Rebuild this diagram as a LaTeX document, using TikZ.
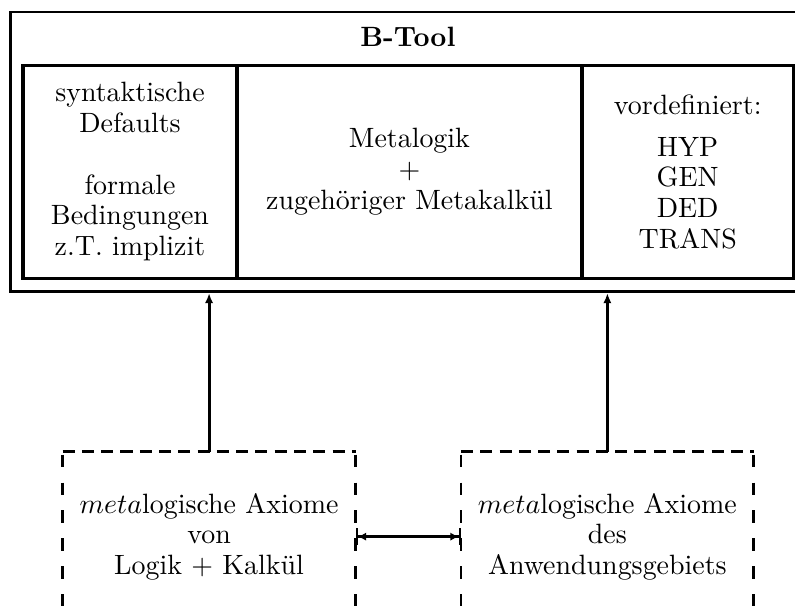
\documentclass[tikz,border=0pt]{standalone}
\usepackage{amsmath}
\usepackage{amssymb}
\usetikzlibrary{arrows.meta}
\usetikzlibrary{positioning}

\begin{document}
\begin{tikzpicture}[
    cell/.style={draw, line width=1.2pt, minimum height=2.68cm, inner sep=0pt,
      align=center, font=\fontsize{10}{11}\selectfont},
    axbox/.style={minimum width=3.67cm, minimum height=2.12cm, inner sep=0pt,
      align=center, font=\fontsize{10}{11}\selectfont},
    strichh/.style={line width=1pt, dash pattern=on 4.3pt off 2.6pt},
    strichv/.style={line width=1pt, dash pattern=on 4.6pt off 5.4pt, dash phase=-1pt},
    pfeil/.style={-{Latex[length=3.6pt,width=3pt]}, line width=1.1pt}
  ]
    \useasboundingbox (0,0) rectangle (10,-7.61);

    % B-Tool
    \node[draw, line width=1pt, minimum width=10.02cm, minimum height=3.52cm] (btool) at (5.14,-1.91) {};
    \node[font=\bfseries] (titel) at (5.13,-0.47) {B-Tool};
    \node[cell, minimum width=2.69cm] (syntax) at (1.635,-2.16)
      {syntaktische\\ Defaults\\[11pt] formale\\ Bedingungen\\ z.T. implizit};
    \node[cell, minimum width=4.34cm] (meta) at (5.15,-2.16)
      {Metalogik\\ $+$\\ zugeh\"origer Metakalk\"ul};
    \node[cell, minimum width=2.66cm] (vordef) at (8.65,-2.16)
      {vordefiniert:\\[4pt] HYP\\ GEN\\ DED\\ TRANS};

    % Axiome
    \node[axbox] (axlogik) at (2.63,-6.75)
      {$meta$logische Axiome\\ von\\ Logik $+$ Kalk\"ul};
    \node[axbox] (axgebiet) at (7.64,-6.75)
      {$meta$logische Axiome\\ des\\ Anwendungsgebiets};
    \foreach \ax in {axlogik,axgebiet} {
      \draw[strichh] (\ax.north west) -- (\ax.north east);
      \draw[strichh] (\ax.south west) -- (\ax.south east);
      \draw[strichv] (\ax.north west) -- (\ax.south west);
      \draw[strichv] (\ax.north east) -- (\ax.south east);
    }

    \draw[pfeil] (axlogik.north) -- (axlogik.north |- btool.south);
    \draw[pfeil] (axgebiet.north) -- (axgebiet.north |- btool.south);
    \draw[{Bar[width=6pt,line width=0.8pt]Latex[length=3pt,width=3pt]}-{Latex[length=3pt,width=3pt]Bar[width=6pt,line width=0.8pt]}, line width=1.1pt]
      (axlogik.east) -- (axgebiet.west);
  \end{tikzpicture}
\end{document}
